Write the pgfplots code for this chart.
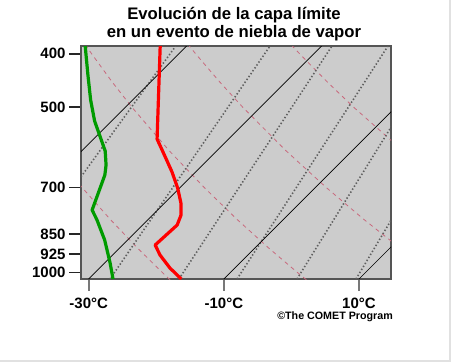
\documentclass[border=0pt]{standalone}
\usepackage{fontspec}
\setmainfont{Liberation Sans}
\usepackage{pgfplots}
\pgfplotsset{compat=1.18}
\definecolor{bggray}{RGB}{204,204,204}
\definecolor{boxgray}{RGB}{85,85,85}
\definecolor{adiab}{RGB}{200,105,125}
\definecolor{mixgray}{RGB}{95,95,95}
\definecolor{tgreen}{RGB}{0,155,0}
\definecolor{frame}{RGB}{225,225,225}
\pgfplotsset{table/skew/.style={x expr={\thisrow{T}+35.37*ln(1026.7/\thisrow{p})}, y=p}}
\begin{document}
\begin{tikzpicture}
\path[use as bounding box] (0,0) rectangle (451bp,362bp);
\draw[frame, line width=1.5bp] (450bp,362bp) -- (450bp,1bp) -- (0,1bp);
\node[anchor=base, font=\fontsize{16.7bp}{18bp}\selectfont\bfseries] at (234bp,342bp) {Evolución de la capa límite};
\node[anchor=base, font=\fontsize{16.7bp}{18bp}\selectfont\bfseries] at (234bp,324.5bp) {en un evento de niebla de vapor};
\node[anchor=base east, inner sep=0pt, font=\fontsize{10.7bp}{12bp}\selectfont\bfseries] at (393bp,42bp) {©The COMET Program};
\begin{axis}[
  at={(81bp,83bp)}, anchor=south west, scale only axis,
  width=310bp, height=233bp,
  xmin=-31.14, xmax=14.74,
  ymode=log, y dir=reverse, ymin=387.3, ymax=1026.7,
  ytick={400,500,700,850,925,1000},
  yticklabels={400,500,700,850,925,1000},
  yminorticks=false, xminorticks=false,
  xtick={-30,-10,10},
  xticklabels={-30°C,-10°C,10°C},
  tick align=outside, xtick pos=left, ytick pos=left,
  major tick length=12bp,
  xtick style={draw={rgb,255:red,120;green,120;blue,120}, line width=2bp},
  ytick style={draw=black!85, line width=1.5bp},
  ticklabel style={font=\fontsize{15bp}{18bp}\selectfont\bfseries},
  xticklabel style={yshift=-3.5bp},
  axis background/.style={fill=bggray},
  axis line style={draw=boxgray, line width=1.5bp},
  clip=true,
]
% dry adiabats (theta = -20, 0, 20, 40 C)
\addplot[adiab, line width=0.8bp, dash pattern=on 4bp off 4bp] table[skew] {
T p
-17.85 1030
-20.00 1000
-27.51 900
-35.63 800
-44.53 700
-54.37 600
-65.48 500
-71.63 450
-78.30 400
-81.14 380
};
\addplot[adiab, line width=0.8bp, dash pattern=on 4bp off 4bp] table[skew] {
T p
2.32 1030
0.00 1000
-8.10 900
-16.87 800
-26.46 700
-37.09 600
-49.07 500
-55.71 450
-62.91 400
-65.97 380
};
\addplot[adiab, line width=0.8bp, dash pattern=on 4bp off 4bp] table[skew] {
T p
22.49 1030
20.00 1000
11.31 900
1.90 800
-8.40 700
-19.81 600
-32.67 500
-39.79 450
-47.52 400
-50.80 380
};
\addplot[adiab, line width=0.8bp, dash pattern=on 4bp off 4bp] table[skew] {
T p
42.65 1030
40.00 1000
30.71 900
20.66 800
9.66 700
-2.52 600
-16.26 500
-23.87 450
-32.13 400
-35.63 380
};
% mixing ratio lines
\addplot[mixgray, line width=1.6bp, dash pattern=on 1.4bp off 2.1bp] table[skew] {
T p
-42.10 1026.7
-51.60 387.3
};
\addplot[mixgray, line width=1.6bp, dash pattern=on 1.4bp off 2.1bp] table[skew] {
T p
-26.85 1026.7
-37.65 387.3
};
\addplot[mixgray, line width=1.6bp, dash pattern=on 1.4bp off 2.1bp] table[skew] {
T p
-16.64 1026.7
-28.48 387.3
};
\addplot[mixgray, line width=1.6bp, dash pattern=on 1.4bp off 2.1bp] table[skew] {
T p
-8.05 1026.7
-20.19 387.3
};
\addplot[mixgray, line width=1.6bp, dash pattern=on 1.4bp off 2.1bp] table[skew] {
T p
0.83 1026.7
-12.30 387.3
};
\addplot[mixgray, line width=1.6bp, dash pattern=on 1.4bp off 2.1bp] table[skew] {
T p
9.56 1026.7
-4.36 387.3
};
% isotherms
\addplot[black, line width=0.7bp] table[skew] {
T p
-50 1026.7
-50 387.3
};
\addplot[black, line width=0.7bp] table[skew] {
T p
-30 1026.7
-30 387.3
};
\addplot[black, line width=0.7bp] table[skew] {
T p
-10 1026.7
-10 387.3
};
\addplot[black, line width=0.7bp] table[skew] {
T p
10 1026.7
10 387.3
};
% dewpoint
\addplot[tgreen, line width=3.2bp, line join=round] table[skew] {
T p
-65.0 387.3
-60.3 437.3
-56.2 485.5
-52.5 530.1
-49.5 564.4
-46.5 601.0
-44.3 637.2
-43.0 664.5
-39.7 769.3
-37.5 802.1
-33.4 872.2
-29.2 960.2
-26.4 1026.7
};
% temperature
\addplot[red, line width=3.2bp, line join=round] table[skew] {
T p
-53.9 387.3
-40.6 571.5
-36.5 618.9
-33.5 656.2
-30.3 701.6
-27.6 747.0
-25.8 785.5
-24.9 819.1
-25.2 890.5
-23.0 928.6
-19.6 980.5
-16.3 1026.7
};
\end{axis}
\end{tikzpicture}
\end{document}
